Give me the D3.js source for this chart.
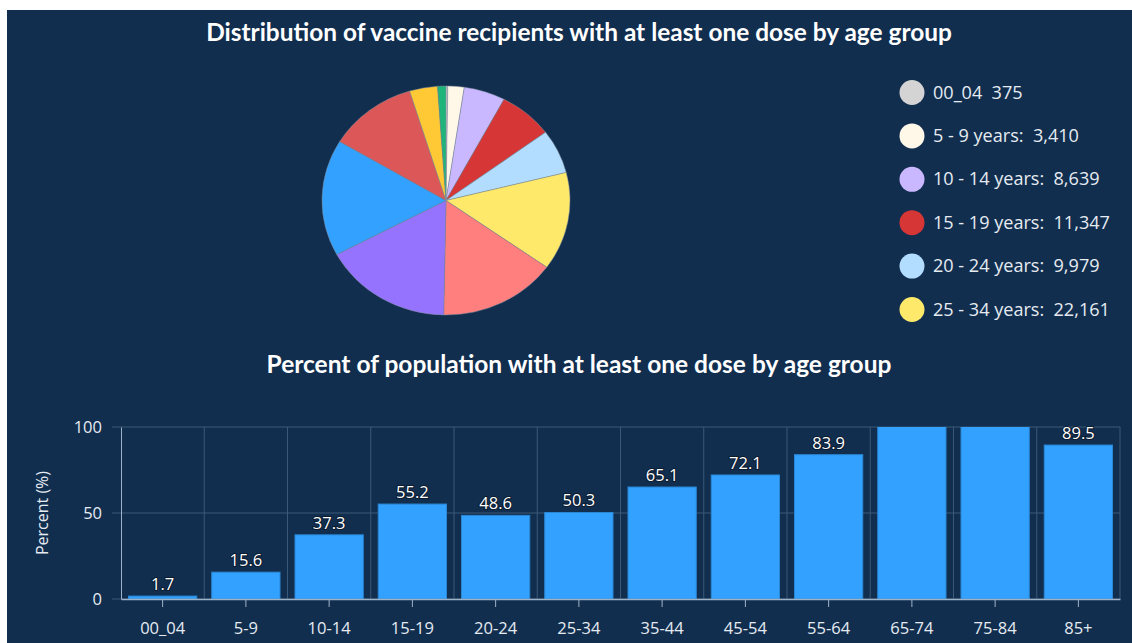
<!DOCTYPE html>
<html>
<head>
<meta charset="utf-8">
<script src="https://cdn.jsdelivr.net/npm/d3@7"></script>
<style>
  body { margin: 0; background: #fff; }
  svg { display: block; font-family: "Open Sans", "Noto Sans", sans-serif; }
</style>
</head>
<body>
<svg id="chart" width="1132" height="643"></svg>
<script>
// pie data (counts of recipients)
var pieKeys = ["00_04", "5-9", "10-14", "15-19", "20-24", "25-34",
               "35-44", "45-54", "55-64", "65-74", "75-84", "85+"];
var pieNames = ["00_04", "5 - 9 years:", "10 - 14 years:", "15 - 19 years:",
                "20 - 24 years:", "25 - 34 years:", "35 - 44 years:", "45 - 54 years:",
                "55 - 64 years:", "65 - 74 years:", "75 - 84 years:", "85+ years:"];
var pieValues = [375, 3410, 8639, 11347, 9979, 22161, 24660, 27030, 26320, 18680, 5850, 1740];
var pieColors = ["#d4d4d4", "#fff8e8", "#c9b8ff", "#d63636", "#b3ddff", "#ffe96b",
                 "#ff7f7f", "#9673ff", "#33a1ff", "#dc5858", "#ffc935", "#1fb57a"];
var legendShown = 6;

// bar data (percent of population)
var barCats = ["00_04", "5-9", "10-14", "15-19", "20-24", "25-34",
               "35-44", "45-54", "55-64", "65-74", "75-84", "85+"];
var barValues = [1.7, 15.6, 37.3, 55.2, 48.6, 50.3, 65.1, 72.1, 83.9, 104.0, 102.0, 89.5];
var yTicks = [0, 50, 100];

var svg = d3.select("#chart");
var bg = "#112e4f";
var txt = "#e6ebf1";

// panel
svg.append("rect")
    .attr("x", 7).attr("y", 10)
    .attr("width", 1125).attr("height", 633)
    .attr("fill", bg);

// TITLES
function title(str, y, w) {
    var t = svg.append("text")
        .attr("x", 579).attr("y", y)
        .attr("text-anchor", "middle")
        .attr("fill", "#ffffff")
        .style("font-family", "Lato, 'Open Sans', sans-serif")
        .style("font-weight", 700)
        .style("font-size", "19px")
        .text(str);
    var len = t.node().getComputedTextLength();
    t.style("font-size", (19 * w / len) + "px");
}
title("Distribution of vaccine recipients with at least one dose by age group", 41, 746);
title("Percent of population with at least one dose by age group", 373, 625);

// PIE
var cx = 446, cy = 200.5, rx = 124, ry = 114.5;
var pie = d3.pie().sort(null).value(function(d) { return d; });
var arc = d3.arc().innerRadius(0).outerRadius(rx);
var pieG = svg.append("g")
    .attr("transform", "translate(" + cx + "," + cy + ") scale(1," + (ry / rx) + ")");
pieG.selectAll("path")
    .data(pie(pieValues))
    .enter().append("path")
    .attr("d", arc)
    .attr("fill", function(d, i) { return pieColors[i]; })
    .attr("stroke", "#7d8a99")
    .attr("stroke-width", 0.5)
    .attr("vector-effect", "non-scaling-stroke");

// legend
var legY = d3.scaleLinear().domain([0, 5]).range([92.5, 309.5]);
var leg = svg.append("g").selectAll("g")
    .data(d3.range(legendShown))
    .enter().append("g")
    .attr("transform", function(i) { return "translate(912," + legY(i) + ")"; });
leg.append("circle")
    .attr("r", 12.5)
    .attr("fill", function(i) { return pieColors[i]; });
var legText = leg.append("text")
    .attr("x", 21).attr("y", 6)
    .attr("fill", txt)
    .style("font-size", "16px")
    .attr("xml:space", "preserve")
    .text(function(i) {
        return pieNames[i] + "  " + d3.format(",")(pieValues[i]);
    });
var legW = d3.max(legText.nodes(), function(n) { return n.getComputedTextLength(); });
legText.style("font-size", (16 * 177 / legW) + "px");

// BAR CHART
var left = 121, right = 1120, plotTop = 427, plotBottom = 599;
var x = d3.scaleBand().domain(barCats).range([left, right]).paddingInner(0.18).paddingOuter(0.09);
var xb = d3.scaleBand().domain(barCats).range([left, right]);
var y = d3.scaleLinear().domain([0, 100]).range([plotBottom, plotTop]);

var grid = svg.append("g");
// horizontal grid (with small tick to the left)
grid.selectAll(".hg")
    .data(yTicks)
    .enter().append("line")
    .attr("x1", left - 9).attr("x2", right)
    .attr("y1", function(d) { return y(d); })
    .attr("y2", function(d) { return y(d); })
    .attr("stroke", "#3c5877").attr("stroke-width", 1);
// vertical grid at category boundaries
grid.selectAll(".vg")
    .data(barCats)
    .enter().append("line")
    .attr("x1", function(d) { return xb(d) + xb.bandwidth(); })
    .attr("x2", function(d) { return xb(d) + xb.bandwidth(); })
    .attr("y1", plotTop).attr("y2", plotBottom)
    .attr("stroke", "#3c5877").attr("stroke-width", 1);

svg.append("clipPath").attr("id", "plot")
    .append("rect")
    .attr("x", left).attr("y", plotTop)
    .attr("width", right - left).attr("height", plotBottom - plotTop);

svg.append("g").attr("clip-path", "url(#plot)")
    .selectAll("rect")
    .data(barValues)
    .enter().append("rect")
    .attr("x", function(d, i) { return x(barCats[i]); })
    .attr("width", x.bandwidth())
    .attr("y", function(d) { return y(d); })
    .attr("height", function(d) { return y(0) - y(d); })
    .attr("fill", "#33a1ff")
    .attr("stroke", "#2a88d6")
    .attr("stroke-width", 1);

// value labels (hidden when above plot)
svg.append("g").selectAll("text")
    .data(barValues.map(function(v, i) { return {cat: barCats[i], v: v}; })
        .filter(function(d) { return d.v <= 100; }))
    .enter().append("text")
    .attr("x", function(d) { return x(d.cat) + x.bandwidth() / 2; })
    .attr("y", function(d) { return y(d.v) - 6; })
    .attr("text-anchor", "middle")
    .attr("fill", "#ffffff")
    .attr("stroke", "#0b1b30")
    .attr("stroke-width", 2)
    .attr("paint-order", "stroke")
    .style("font-size", "16.5px")
    .text(function(d) { return d3.format(".1f")(d.v); });

// axes
var xAxis = svg.append("g")
    .attr("transform", "translate(0," + plotBottom + ")")
    .call(d3.axisBottom(xb).tickSize(8).tickSizeOuter(0).tickPadding(15));
xAxis.select(".domain").attr("stroke", "#9fb3c8").attr("stroke-width", 1.5);
xAxis.selectAll(".tick line").attr("stroke", "#9fb3c8");
xAxis.selectAll("text")
    .attr("fill", txt)
    .style("font-size", "16.5px")
    .style("font-family", "'Open Sans', sans-serif");

var yAxis = svg.append("g")
    .attr("transform", "translate(" + left + ",0)")
    .call(d3.axisLeft(y).tickValues(yTicks).tickSize(0).tickPadding(19));
yAxis.select(".domain").attr("stroke", "#9fb3c8");
yAxis.selectAll("text")
    .attr("fill", txt)
    .style("font-size", "16.5px")
    .style("font-family", "'Open Sans', sans-serif");

svg.append("text")
    .attr("transform", "translate(48," + ((plotTop + plotBottom) / 2) + ") rotate(-90)")
    .attr("text-anchor", "middle")
    .attr("fill", txt)
    .style("font-size", "16px")
    .text("Percent (%)");
</script>
</body>
</html>
